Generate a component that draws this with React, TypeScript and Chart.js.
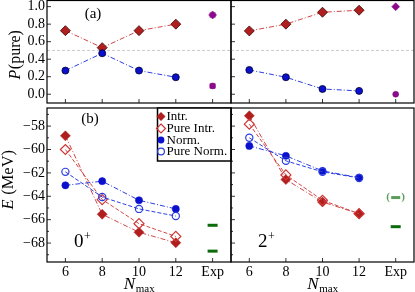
import React, { useEffect, useRef } from "react";
import { Chart, registerables } from "chart.js";
Chart.register(...registerables);

const W = 415;
const H = 292;
const M = 24; // off-screen margin around each canvas
const FONT = "'Liberation Serif', 'DejaVu Serif', serif";

// ---- data ----
const nmax = [6, 8, 10, 12];
const expX = 14;
const xTickValues = [6, 8, 10, 12, 14];
const xTickLabels = ["6", "8", "10", "12", "Exp"];
const pTicks = [0.0, 0.2, 0.4, 0.6, 0.8, 1.0];
const eTicks = [-68, -66, -64, -62, -60, -58];
const eMinorTicks = [-69, -67, -65, -63, -61, -59, -57];
const pRefLine = 0.5;

// (a) probability of pure configuration
const pIntr0 = [0.726, 0.532, 0.726, 0.8];
const pNorm0 = [0.27, 0.468, 0.27, 0.194];
const pExp0 = [0.905, 0.095];
const pExpErr0 = [0.022, 0.022];
const pIntr2 = [0.723, 0.8, 0.936, 0.959];
const pNorm2 = [0.277, 0.194, 0.06, 0.038];
const pExp2 = [1.0, 0.0];

// (b) energies
const eIntr0 = [-58.83, -65.54, -67.08, -67.97];
const ePureIntr0 = [-60.0, -64.28, -66.34, -67.43];
const eNorm0 = [-63.06, -62.71, -64.34, -65.08];
const ePureNorm0 = [-61.91, -64.06, -65.08, -65.69];
const eExp0 = [-66.48, -68.69];

const eIntr2 = [-57.12, -62.57, -64.49, -65.49];
const ePureIntr2 = [-57.83, -62.17, -64.34, -65.49];
const eNorm2 = [-59.69, -60.54, -61.83, -62.4];
const ePureNorm2 = [-59.0, -60.97, -61.91, -62.43];
const eExp2 = [-66.6];
const eExpTentative2 = [-64.11];

const legendLabels = ["Intr.", "Pure Intr.", "Norm.", "Pure Norm."];

// ---- styles ----
const DASHDOT = [5, 2, 1, 2];
const DASHED = [4, 2];
const RED_LINE = "#d24545";
const RED_FILL = "#b01e1e";
const BLUE_LINE = "#2a3ee0";
const BLUE_FILL = "#0a10cc";
const PURPLE = "#8a0a8a";
const GREEN = "#0b6b0b";
const GREEN_LIGHT = "#5a9e5a";

const pts = (ys: number[]) => ys.map((y, i) => ({ x: nmax[i], y }));
const expPts = (ys: number[]) => ys.map((y) => ({ x: expX, y }));

function probDatasets(intr: number[], norm: number[], exp: number[]) {
  return [
    {
      data: expPts([exp[0]]),
      showLine: false,
      pointStyle: "rectRot",
      pointRadius: 4,
      pointBackgroundColor: PURPLE,
      pointBorderColor: PURPLE,
      pointBorderWidth: 0.5,
    },
    {
      data: expPts([exp[1]]),
      showLine: false,
      pointStyle: "circle",
      pointRadius: 3,
      pointBackgroundColor: PURPLE,
      pointBorderColor: PURPLE,
      pointBorderWidth: 0.5,
    },
    {
      data: pts(norm),
      borderColor: BLUE_LINE,
      borderWidth: 1,
      borderDash: DASHDOT,
      pointStyle: "circle",
      pointRadius: 3.5,
      pointBackgroundColor: BLUE_FILL,
      pointBorderColor: "#000033",
      pointBorderWidth: 0.8,
    },
    {
      data: pts(intr),
      borderColor: RED_LINE,
      borderWidth: 1,
      borderDash: DASHDOT,
      pointStyle: "rectRot",
      pointRadius: 5,
      pointBackgroundColor: RED_FILL,
      pointBorderColor: "#3a0808",
      pointBorderWidth: 0.8,
    },
    {
      data: [
        { x: 5, y: pRefLine },
        { x: 15, y: pRefLine },
      ],
      borderColor: "#bdbdbd",
      borderWidth: 0.8,
      borderDash: [3, 2],
      pointRadius: 0,
    },
  ];
}

function energyDatasets(
  intr: number[],
  pureIntr: number[],
  norm: number[],
  pureNorm: number[],
  exp: number[],
  tentative: number[]
) {
  const ds: any[] = [
    {
      data: expPts(exp),
      showLine: false,
      pointStyle: "line",
      pointRadius: 5,
      pointBorderWidth: 3,
      pointBorderColor: GREEN,
    },
  ];
  if (tentative.length)
    ds.push({
      data: expPts(tentative),
      showLine: false,
      pointStyle: "line",
      pointRadius: 4.5,
      pointBorderWidth: 3,
      pointBorderColor: GREEN_LIGHT,
    });
  ds.push(
    {
      data: pts(pureNorm),
      borderColor: BLUE_LINE,
      borderWidth: 1,
      borderDash: DASHED,
      pointStyle: "circle",
      pointRadius: 3.6,
      pointBackgroundColor: "rgba(255,255,255,0)",
      pointBorderColor: BLUE_LINE,
      pointBorderWidth: 1.2,
    },
    {
      data: pts(norm),
      borderColor: BLUE_LINE,
      borderWidth: 1,
      borderDash: DASHDOT,
      pointStyle: "circle",
      pointRadius: 3.6,
      pointBackgroundColor: BLUE_FILL,
      pointBorderColor: BLUE_FILL,
      pointBorderWidth: 0.5,
    },
    {
      data: pts(pureIntr),
      borderColor: RED_LINE,
      borderWidth: 1,
      borderDash: DASHED,
      pointStyle: "rectRot",
      pointRadius: 5,
      pointBackgroundColor: "rgba(255,255,255,0)",
      pointBorderColor: "#d03535",
      pointBorderWidth: 1.2,
    },
    {
      data: pts(intr),
      borderColor: RED_LINE,
      borderWidth: 1,
      borderDash: DASHDOT,
      pointStyle: "rectRot",
      pointRadius: 5,
      pointBackgroundColor: RED_FILL,
      pointBorderColor: RED_FILL,
      pointBorderWidth: 0.5,
    }
  );
  return ds;
}

function drawRotatedTitle(ctx: CanvasRenderingContext2D, bx: number, cy: number, ital: string, rest: string, size: number) {
  ctx.save();
  ctx.translate(bx, cy);
  ctx.rotate(-Math.PI / 2);
  ctx.fillStyle = "#000";
  ctx.textBaseline = "alphabetic";
  ctx.font = `italic ${size}px ${FONT}`;
  const w1 = ctx.measureText(ital).width;
  ctx.font = `${size}px ${FONT}`;
  const w2 = ctx.measureText(rest).width;
  const x0 = -(w1 + w2) / 2;
  ctx.font = `italic ${size}px ${FONT}`;
  ctx.fillText(ital, x0, 0);
  ctx.font = `${size}px ${FONT}`;
  ctx.fillText(rest, x0 + w1 + 0.5, 0);
  ctx.restore();
}

function drawNmax(ctx: CanvasRenderingContext2D, cx: number) {
  ctx.save();
  ctx.fillStyle = "#000";
  ctx.textBaseline = "alphabetic";
  ctx.font = `italic 17px ${FONT}`;
  const w1 = ctx.measureText("N").width;
  ctx.font = `11px ${FONT}`;
  const w2 = ctx.measureText("max").width;
  const x0 = cx - (w1 + w2) / 2;
  ctx.font = `italic 17px ${FONT}`;
  ctx.fillText("N", x0, M + 289);
  ctx.font = `11px ${FONT}`;
  ctx.fillText("max", x0 + w1 + 0.5, M + 292);
  ctx.restore();
}

function drawSpin(ctx: CanvasRenderingContext2D, x: number, digit: string) {
  ctx.save();
  ctx.fillStyle = "#000";
  ctx.textBaseline = "alphabetic";
  ctx.font = `19px ${FONT}`;
  ctx.fillText(digit, M + x, M + 246.5);
  const w = ctx.measureText(digit).width;
  ctx.font = `12px ${FONT}`;
  ctx.fillText("+", M + x + w + 0.5, M + 239.5);
  ctx.restore();
}

function drawLegend(ctx: CanvasRenderingContext2D) {
  const bx = M + 157.5;
  const by = M + 108;
  const bw = M + 231 - bx;
  const bh = 53;
  ctx.save();
  ctx.fillStyle = "#fff";
  ctx.fillRect(bx, by, bw, bh);
  ctx.strokeStyle = "#000";
  ctx.lineWidth = 1.5;
  ctx.strokeRect(bx, by, bw, bh);
  const rows = [116.5, 128.5, 140, 151.5].map((r) => M + r);
  const mx = M + 161;
  rows.forEach((y, i) => {
    ctx.setLineDash([]);
    if (i < 2) {
      ctx.beginPath();
      ctx.moveTo(mx, y - 4.5);
      ctx.lineTo(mx + 4.5, y);
      ctx.lineTo(mx, y + 4.5);
      ctx.lineTo(mx - 4.5, y);
      ctx.closePath();
      if (i === 0) {
        ctx.fillStyle = RED_FILL;
        ctx.fill();
      } else {
        ctx.strokeStyle = "#d03535";
        ctx.lineWidth = 1.2;
        ctx.stroke();
      }
    } else {
      ctx.beginPath();
      ctx.arc(mx, y, 3.4, 0, Math.PI * 2);
      if (i === 2) {
        ctx.fillStyle = BLUE_FILL;
        ctx.fill();
      } else {
        ctx.strokeStyle = BLUE_LINE;
        ctx.lineWidth = 1.2;
        ctx.stroke();
      }
    }
    ctx.fillStyle = "#000";
    ctx.font = `13px ${FONT}`;
    ctx.textBaseline = "middle";
    ctx.fillText(legendLabels[i], M + 166.5, y + 0.5);
  });
  ctx.restore();
}

function makeConfig(kind: "P" | "E", side: "L" | "R"): any {
  const isTop = kind === "P";
  const isLeft = side === "L";
  const padding = {
    left: M + (isLeft ? 0 : 231),
    right: M + (isLeft ? W - 231 : 1),
    top: M + (isTop ? 0.5 : 108),
    bottom: M + (isTop ? H - 103 : 0),
  };
  let datasets: any[];
  if (isTop) datasets = isLeft ? probDatasets(pIntr0, pNorm0, pExp0) : probDatasets(pIntr2, pNorm2, pExp2);
  else
    datasets = isLeft
      ? energyDatasets(eIntr0, ePureIntr0, eNorm0, ePureNorm0, eExp0, [])
      : energyDatasets(eIntr2, ePureIntr2, eNorm2, ePureNorm2, eExp2, eExpTentative2);

  const decor = {
    id: "decor" + kind + side,
    afterDatasetsDraw(chart: any) {
      const ctx = chart.ctx as CanvasRenderingContext2D;
      const xs = chart.scales.x;
      const ys = chart.scales.y;
      ctx.save();
      if (isTop && isLeft) {
        ctx.strokeStyle = PURPLE;
        ctx.lineWidth = 1.2;
        pExp0.forEach((v, i) => {
          const px = xs.getPixelForValue(expX);
          const y1 = ys.getPixelForValue(v - pExpErr0[i]);
          const y2 = ys.getPixelForValue(v + pExpErr0[i]);
          ctx.beginPath();
          ctx.moveTo(px, y1);
          ctx.lineTo(px, y2);
          ctx.moveTo(px - 3, y1);
          ctx.lineTo(px + 3, y1);
          ctx.moveTo(px - 3, y2);
          ctx.lineTo(px + 3, y2);
          ctx.stroke();
        });
      }
      if (!isTop && !isLeft) {
        ctx.fillStyle = GREEN_LIGHT;
        ctx.font = `bold 11px ${FONT}`;
        ctx.textBaseline = "middle";
        ctx.textAlign = "center";
        eExpTentative2.forEach((v) => {
          const px = xs.getPixelForValue(expX);
          const py = ys.getPixelForValue(v);
          ctx.fillText("(", px - 7.5, py);
          ctx.fillText(")", px + 7.5, py);
        });
      }
      ctx.restore();
    },
    afterDraw(chart: any) {
      const ctx = chart.ctx as CanvasRenderingContext2D;
      const { left, right, top, bottom } = chart.chartArea;
      const xs = chart.scales.x;
      const ys = chart.scales.y;
      ctx.save();
      ctx.strokeStyle = "#000";
      ctx.lineWidth = 0.8;
      ctx.setLineDash([]);
      ctx.beginPath();
      (isTop ? pTicks : eTicks).forEach((t) => {
        const py = ys.getPixelForValue(t);
        ctx.moveTo(left, py);
        ctx.lineTo(left + 4, py);
      });
      if (!isTop)
        eMinorTicks.forEach((t) => {
          const py = ys.getPixelForValue(t);
          if (py > top && py < bottom) {
            ctx.moveTo(left, py);
            ctx.lineTo(left + 2, py);
          }
        });
      xTickValues.forEach((t) => {
        const px = xs.getPixelForValue(t);
        ctx.moveTo(px, bottom);
        ctx.lineTo(px, bottom - 4);
      });
      ctx.stroke();
      ctx.lineWidth = 1.2;
      ctx.strokeRect(left, top, right - left, bottom - top);
      ctx.restore();

      if (isTop && isLeft) {
        drawRotatedTitle(ctx, M + 20, M + 55, "P", "(pure)", 16);
        ctx.save();
        ctx.fillStyle = "#000";
        ctx.font = `15px ${FONT}`;
        ctx.textAlign = "center";
        ctx.textBaseline = "middle";
        ctx.fillText("(a)", M + 93, M + 14);
        ctx.restore();
      }
      if (!isTop && isLeft) {
        drawRotatedTitle(ctx, M + 13, M + 180, "E", " (MeV)", 16.5);
        ctx.save();
        ctx.fillStyle = "#000";
        ctx.font = `15px ${FONT}`;
        ctx.textAlign = "center";
        ctx.textBaseline = "middle";
        ctx.fillText("(b)", M + 90, M + 119);
        ctx.restore();
        drawSpin(ctx, 74, "0");
        drawLegend(ctx);
        drawNmax(ctx, (left + right) / 2);
      }
      if (!isTop && !isLeft) {
        drawSpin(ctx, 258, "2");
        drawNmax(ctx, (left + right) / 2);
      }
    },
  };

  return {
    type: "line",
    data: { datasets },
    options: {
      responsive: false,
      animation: false,
      events: [],
      layout: { padding },
      plugins: { legend: { display: false }, tooltip: { enabled: false } },
      elements: { line: { tension: 0 } },
      scales: {
        x: {
          type: "linear",
          min: 5,
          max: 15,
          afterBuildTicks: (s: any) => {
            s.ticks = xTickValues.map((v) => ({ value: v }));
          },
          afterFit: (s: any) => {
            s.height = isTop ? 0 : 30;
          },
          grid: { display: false, drawTicks: false },
          border: { display: false },
          ticks: {
            display: !isTop,
            padding: 2,
            color: "#000",
            maxRotation: 0,
            autoSkip: false,
            font: { family: FONT, size: 14 },
            callback: (v: number) => {
              const i = xTickValues.indexOf(v);
              return i >= 0 ? xTickLabels[i] : "";
            },
          },
        },
        y: {
          type: "linear",
          min: isTop ? -0.1 : -69.62,
          max: isTop ? 1.07 : -56.45,
          afterBuildTicks: (s: any) => {
            s.ticks = (isTop ? pTicks : eTicks).map((v) => ({ value: v }));
          },
          afterFit: (s: any) => {
            s.width = isLeft ? 47 : 0;
          },
          grid: { display: false, drawTicks: false },
          border: { display: false },
          ticks: {
            display: isLeft,
            padding: 2,
            color: "#000",
            autoSkip: false,
            font: { family: FONT, size: 14 },
            callback: (v: number) => (isTop ? v.toFixed(1) : "\u2212" + Math.abs(v)),
          },
        },
      },
    },
    plugins: [decor],
  };
}

function Panel({ kind, side }: { kind: "P" | "E"; side: "L" | "R" }) {
  const ref = useRef<HTMLCanvasElement>(null);
  useEffect(() => {
    const chart = new Chart(ref.current as HTMLCanvasElement, makeConfig(kind, side));
    return () => chart.destroy();
  }, [kind, side]);
  return (
    <canvas
      ref={ref}
      width={W + 2 * M}
      height={H + 2 * M}
      style={{ position: "absolute", left: -M, top: -M, width: W + 2 * M, height: H + 2 * M }}
    />
  );
}

export default function App() {
  return (
    <div style={{ position: "absolute", left: 0, top: 0, width: W, height: H, background: "#fff", overflow: "hidden" }}>
      <Panel kind="P" side="L" />
      <Panel kind="P" side="R" />
      <Panel kind="E" side="L" />
      <Panel kind="E" side="R" />
    </div>
  );
}
